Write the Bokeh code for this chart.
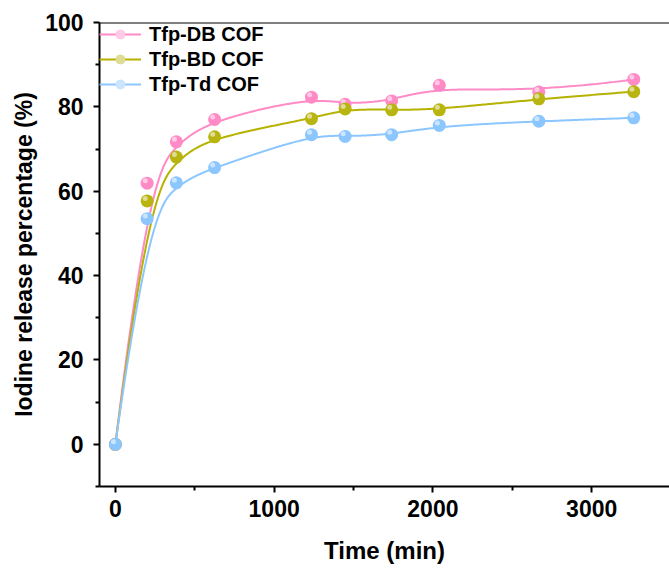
import numpy as np
from bokeh.plotting import figure
from bokeh.models import (ColumnDataSource, Range1d, FixedTicker, Span, Legend,
                          LegendItem)
from bokeh.transform import dodge
from bokeh.embed import file_html
from bokeh.resources import INLINE

# ---------------- data ----------------
time_min = [0, 200, 384, 625, 1235, 1447, 1740, 2040, 2667, 3265]
tfp_db = [0, 61.9, 71.7, 77.0, 82.3, 80.6, 81.4, 85.1, 83.5, 86.5]
tfp_bd = [0, 57.7, 68.1, 72.9, 77.2, 79.5, 79.3, 79.3, 81.9, 83.6]
tfp_td = [0, 53.5, 62.0, 65.6, 73.4, 73.0, 73.4, 75.6, 76.6, 77.4]

series_names = ["Tfp-DB COF", "Tfp-BD COF", "Tfp-Td COF"]
series_values = [tfp_db, tfp_bd, tfp_td]
colors = ["#ff8ac6", "#b8b410", "#8cc6ff"]
line_colors = ["#ff8ac6", "#b5b200", "#8cc6ff"]

x_ticks = [0, 1000, 2000, 3000]
x_minor = [500, 1500, 2500]
y_ticks = [0, 20, 40, 60, 80, 100]
y_minor = [-10, 10, 30, 50, 70, 90]

x_title = "Time (min)"
y_title = "Iodine release percentage (%)"

FONT = "Liberation Sans"


def bspline(xs, ys, n=500, k=3):
    """Clamped uniform cubic B-spline with data points as control points."""
    P = np.column_stack([xs, ys]).astype(float)
    m = len(P)
    knots = np.concatenate([np.zeros(k), np.linspace(0, 1, m - k + 1), np.ones(k)])
    out = []
    for t in np.linspace(0, 1 - 1e-9, n):
        N = np.array([1.0 if knots[i] <= t < knots[i + 1] else 0.0
                      for i in range(len(knots) - 1)])
        for d in range(1, k + 1):
            newN = np.zeros(len(knots) - 1 - d)
            for i in range(len(newN)):
                a = 0.0
                den = knots[i + d] - knots[i]
                if den > 0:
                    a = (t - knots[i]) / den * N[i]
                b = 0.0
                den2 = knots[i + d + 1] - knots[i + 1]
                if den2 > 0:
                    b = (knots[i + d + 1] - t) / den2 * N[i + 1]
                newN[i] = a + b
            N = newN
        out.append(N @ P)
    out = np.array(out)
    return out[:, 0], out[:, 1]


p = figure(width=669, height=568, output_backend="svg", toolbar_location=None,
           x_range=Range1d(-100, 3490), y_range=Range1d(-10, 100),
           min_border_left=99, min_border_right=0, min_border_top=22,
           min_border_bottom=82)
p.outline_line_color = None
p.grid.visible = False
p.background_fill_color = "white"

# top border
p.add_layout(Span(location=100, dimension="width", line_color="black", line_width=2))

items = []
for name, vals, col, lcol in zip(series_names, series_values, colors, line_colors):
    cx, cy = bspline(time_min, vals)
    ln = p.line(cx, cy, line_color=lcol, line_width=2)
    src = ColumnDataSource(dict(x=time_min, y=vals))
    base = p.scatter("x", "y", source=src, size=13, fill_color=col, line_color=None)
    hl = p.scatter(dodge("x", -12, range=p.x_range), dodge("y", 0.6, range=p.y_range),
                   source=src, size=5, fill_color="white", fill_alpha=0.55, line_color=None)
    items.append(LegendItem(label=name, renderers=[ln, base, hl]))

legend = Legend(items=items, location="top_left")
legend.border_line_color = None
legend.background_fill_alpha = 0
legend.label_text_font = FONT
legend.label_text_font_style = "bold"
legend.label_text_font_size = "20px"
legend.label_text_color = "black"
legend.glyph_width = 42
legend.glyph_height = 24
legend.label_height = 24
legend.label_standoff = 8
legend.spacing = 1
legend.padding = 3
legend.margin = 0
p.add_layout(legend)

# axes
for ax in (p.xaxis[0], p.yaxis[0]):
    ax.axis_line_width = 2
    ax.axis_line_color = "black"
    ax.major_tick_line_width = 2
    ax.minor_tick_line_width = 2
    ax.major_tick_out = 6
    ax.major_tick_in = 0
    ax.minor_tick_out = 4
    ax.minor_tick_in = 0
    ax.major_label_text_font = FONT
    ax.major_label_text_font_style = "bold"
    ax.major_label_text_font_size = "23px"
    ax.major_label_text_color = "black"
    ax.axis_label_text_font = FONT
    ax.axis_label_text_font_style = "bold"
    ax.axis_label_text_font_size = "24px"
    ax.axis_label_text_color = "black"

p.yaxis[0].axis_label_text_font_size = "23px"
p.xaxis[0].ticker = FixedTicker(ticks=x_ticks, minor_ticks=x_minor)
p.yaxis[0].ticker = FixedTicker(ticks=y_ticks, minor_ticks=y_minor)
p.xaxis[0].axis_label = x_title
p.yaxis[0].axis_label = y_title
p.xaxis[0].major_label_standoff = 7
p.yaxis[0].major_label_standoff = 10
p.xaxis[0].axis_label_standoff = 17
p.yaxis[0].axis_label_standoff = 5

open("out.html", "w").write(file_html(p, INLINE))
